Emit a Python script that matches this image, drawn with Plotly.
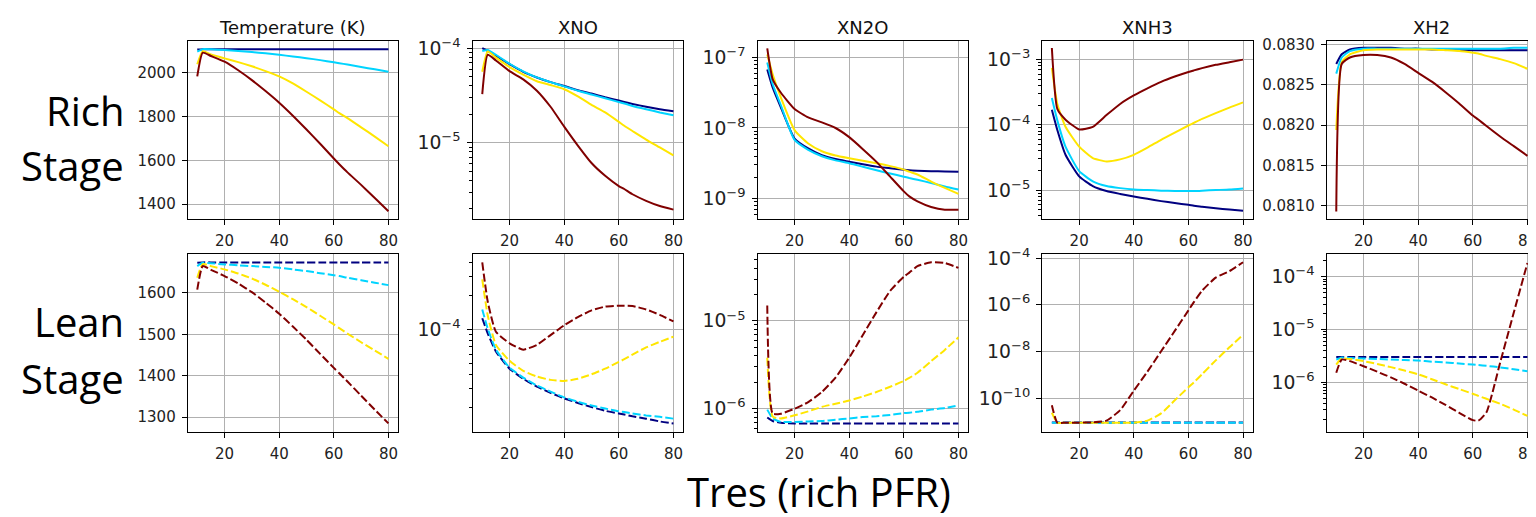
import plotly.graph_objects as go

# ---------------- data ----------------
X = [10, 12, 15, 20, 25, 30, 35, 40, 45, 50, 55, 60, 62, 65, 70, 75, 80]
X_TICKS = [20, 40, 60, 80]

COLORS = ['#000080', '#00d4ff', '#ffe600', '#800000']
TITLES = ['Temperature (K)', 'XNO', 'XN2O', 'XNH3', 'XH2']
ROW_LABELS = [['Rich', 'Stage'], ['Lean', 'Stage']]
X_TITLE = 'Tres (rich PFR)'

# ---- Rich stage (solid lines) ----
rich_temp = [
    [2104, 2106, 2106, 2106, 2106, 2106, 2106, 2106, 2106, 2106, 2106, 2106, 2106, 2106, 2106, 2106, 2106],
    [2095, 2106, 2105, 2102, 2098, 2093, 2087, 2080, 2073, 2065, 2056, 2046, 2042, 2036, 2025, 2014, 2003],
    [2037, 2097, 2082, 2064, 2047, 2028, 2006, 1982, 1950, 1912, 1873, 1832, 1815, 1792, 1750, 1708, 1664],
    [1982, 2090, 2075, 2049, 2010, 1965, 1915, 1862, 1803, 1740, 1675, 1608, 1582, 1545, 1488, 1428, 1368],
]
rich_xno = [
    [1.0e-4, 9.33e-5, 8.32e-5, 6.76e-5, 5.62e-5, 4.90e-5, 4.37e-5, 3.98e-5, 3.59e-5, 3.31e-5, 3.02e-5, 2.79e-5, 2.69e-5, 2.57e-5, 2.40e-5, 2.26e-5, 2.15e-5],
    [9.33e-5, 9.55e-5, 8.51e-5, 6.84e-5, 5.69e-5, 4.90e-5, 4.37e-5, 3.94e-5, 3.55e-5, 3.24e-5, 2.95e-5, 2.69e-5, 2.60e-5, 2.45e-5, 2.26e-5, 2.09e-5, 1.95e-5],
    [5.62e-5, 9.23e-5, 7.94e-5, 6.31e-5, 5.25e-5, 4.47e-5, 4.07e-5, 3.68e-5, 3.09e-5, 2.51e-5, 2.09e-5, 1.66e-5, 1.51e-5, 1.33e-5, 1.08e-5, 8.91e-6, 7.33e-6],
    [3.27e-5, 8.51e-5, 7.41e-5, 5.71e-5, 4.68e-5, 3.55e-5, 2.40e-5, 1.48e-5, 9.33e-6, 6.10e-6, 4.47e-6, 3.48e-6, 3.24e-6, 2.85e-6, 2.43e-6, 2.14e-6, 1.96e-6],
]
rich_xn2o = [
    [6.76e-8, 3.72e-8, 1.95e-8, 7.08e-9, 5.13e-9, 4.12e-9, 3.63e-9, 3.33e-9, 3.05e-9, 2.83e-9, 2.69e-9, 2.55e-9, 2.51e-9, 2.48e-9, 2.44e-9, 2.41e-9, 2.39e-9],
    [8.51e-8, 4.17e-8, 2.09e-8, 6.76e-9, 4.90e-9, 3.98e-9, 3.47e-9, 3.16e-9, 2.82e-9, 2.51e-9, 2.26e-9, 2.04e-9, 1.95e-9, 1.84e-9, 1.66e-9, 1.48e-9, 1.34e-9],
    [1.10e-7, 5.75e-8, 2.69e-8, 9.33e-9, 6.03e-9, 4.68e-9, 4.07e-9, 3.72e-9, 3.43e-9, 3.16e-9, 2.88e-9, 2.57e-9, 2.40e-9, 2.19e-9, 1.74e-9, 1.41e-9, 1.16e-9],
    [1.35e-7, 4.90e-8, 3.16e-8, 1.86e-8, 1.41e-8, 1.20e-8, 1.0e-8, 7.41e-9, 5.01e-9, 3.31e-9, 2.04e-9, 1.26e-9, 1.07e-9, 9.12e-10, 7.59e-10, 6.92e-10, 6.92e-10],
]
rich_xnh3 = [
    [1.70e-4, 8.32e-5, 3.47e-5, 1.62e-5, 1.15e-5, 9.66e-6, 8.71e-6, 7.94e-6, 7.33e-6, 6.76e-6, 6.31e-6, 5.93e-6, 5.75e-6, 5.56e-6, 5.25e-6, 5.01e-6, 4.82e-6],
    [2.57e-4, 1.17e-4, 4.62e-5, 1.95e-5, 1.36e-5, 1.15e-5, 1.07e-5, 1.02e-5, 1.0e-5, 9.77e-6, 9.66e-6, 9.66e-6, 9.66e-6, 9.77e-6, 1.0e-5, 1.02e-5, 1.06e-5],
    [7.48e-4, 2.09e-4, 9.33e-5, 4.62e-5, 3.09e-5, 2.75e-5, 2.95e-5, 3.47e-5, 4.47e-5, 5.89e-5, 7.59e-5, 9.77e-5, 1.07e-4, 1.23e-4, 1.51e-4, 1.84e-4, 2.21e-4],
    [1.51e-3, 1.75e-4, 1.20e-4, 8.51e-5, 9.33e-5, 1.41e-4, 2.09e-4, 2.82e-4, 3.63e-4, 4.57e-4, 5.50e-4, 6.46e-4, 6.84e-4, 7.41e-4, 8.32e-4, 9.12e-4, 1.0e-3],
]
rich_xh2 = [
    [0.08276, 0.08288, 0.08294, 0.08296, 0.08296, 0.08296, 0.08295, 0.08295, 0.08294, 0.08294, 0.08293, 0.08293, 0.08293, 0.08293, 0.08293, 0.08293, 0.08293],
    [0.08264, 0.08284, 0.08292, 0.08295, 0.08295, 0.08295, 0.08295, 0.08295, 0.08295, 0.08295, 0.08295, 0.08295, 0.08295, 0.08295, 0.08295, 0.08296, 0.08296],
    [0.08194, 0.08278, 0.08288, 0.08293, 0.08294, 0.08294, 0.08294, 0.08294, 0.08294, 0.08293, 0.08292, 0.08290, 0.08289, 0.08286, 0.08282, 0.08277, 0.08270],
    [0.08093, 0.08276, 0.08284, 0.08287, 0.08287, 0.08284, 0.08276, 0.08265, 0.08254, 0.08241, 0.08227, 0.08212, 0.08207, 0.08199, 0.08186, 0.08174, 0.08162],
]

# ---- Lean stage (dashed lines) ----
lean_temp = [
    [1673, 1674, 1674, 1674, 1674, 1674, 1674, 1674, 1674, 1674, 1674, 1674, 1674, 1674, 1674, 1674, 1674],
    [1665, 1673, 1672, 1669, 1667, 1665, 1663, 1661, 1657, 1653, 1648, 1643, 1641, 1637, 1631, 1625, 1619],
    [1637, 1670, 1665, 1657, 1647, 1635, 1620, 1603, 1585, 1566, 1545, 1524, 1515, 1502, 1481, 1461, 1441],
    [1608, 1665, 1656, 1641, 1623, 1602, 1577, 1550, 1519, 1487, 1453, 1419, 1406, 1386, 1352, 1318, 1285],
]
lean_xno = [
    [1.26e-4, 9.23e-5, 6.37e-5, 4.47e-5, 3.63e-5, 3.09e-5, 2.72e-5, 2.43e-5, 2.21e-5, 2.03e-5, 1.88e-5, 1.78e-5, 1.74e-5, 1.68e-5, 1.60e-5, 1.51e-5, 1.45e-5],
    [1.51e-4, 1.02e-4, 6.61e-5, 4.57e-5, 3.72e-5, 3.16e-5, 2.79e-5, 2.48e-5, 2.26e-5, 2.10e-5, 1.97e-5, 1.86e-5, 1.83e-5, 1.78e-5, 1.71e-5, 1.66e-5, 1.60e-5],
    [2.80e-4, 1.34e-4, 7.29e-5, 5.25e-5, 4.27e-5, 3.80e-5, 3.55e-5, 3.47e-5, 3.63e-5, 3.98e-5, 4.47e-5, 5.13e-5, 5.43e-5, 5.96e-5, 6.92e-5, 7.76e-5, 8.63e-5],
    [3.98e-4, 1.78e-4, 9.55e-5, 7.53e-5, 6.61e-5, 7.29e-5, 8.91e-5, 1.09e-4, 1.29e-4, 1.48e-4, 1.60e-4, 1.63e-4, 1.63e-4, 1.62e-4, 1.51e-4, 1.35e-4, 1.18e-4],
]
lean_xn2o = [
    [7.94e-7, 7.24e-7, 6.92e-7, 6.79e-7, 6.79e-7, 6.79e-7, 6.79e-7, 6.79e-7, 6.79e-7, 6.79e-7, 6.79e-7, 6.79e-7, 6.79e-7, 6.79e-7, 6.79e-7, 6.79e-7, 6.79e-7],
    [9.77e-7, 7.76e-7, 7.08e-7, 7.08e-7, 7.16e-7, 7.24e-7, 7.50e-7, 7.76e-7, 8.04e-7, 8.22e-7, 8.51e-7, 8.91e-7, 9.02e-7, 9.23e-7, 9.77e-7, 1.02e-6, 1.09e-6],
    [3.80e-6, 8.13e-7, 7.76e-7, 8.41e-7, 9.33e-7, 1.05e-6, 1.14e-6, 1.24e-6, 1.38e-6, 1.55e-6, 1.78e-6, 2.07e-6, 2.24e-6, 2.57e-6, 3.48e-6, 4.68e-6, 6.50e-6],
    [1.50e-5, 8.79e-7, 8.79e-7, 1.0e-6, 1.19e-6, 1.55e-6, 2.26e-6, 3.80e-6, 6.92e-6, 1.26e-5, 2.20e-5, 3.19e-5, 3.55e-5, 4.20e-5, 4.66e-5, 4.57e-5, 4.02e-5],
]
lean_xnh3 = [
    [9.2e-12, 9.2e-12, 9.2e-12, 9.2e-12, 9.2e-12, 9.2e-12, 9.2e-12, 9.2e-12, 9.2e-12, 9.2e-12, 9.2e-12, 9.2e-12, 9.2e-12, 9.2e-12, 9.2e-12, 9.2e-12, 9.2e-12],
    [9.0e-12, 9.0e-12, 9.0e-12, 9.0e-12, 9.0e-12, 9.0e-12, 9.0e-12, 9.0e-12, 9.0e-12, 9.0e-12, 9.0e-12, 9.0e-12, 9.0e-12, 9.0e-12, 9.0e-12, 9.0e-12, 9.0e-12],
    [2.40e-11, 9.02e-12, 9.02e-12, 9.02e-12, 9.02e-12, 9.02e-12, 9.02e-12, 9.02e-12, 1.10e-11, 2.24e-11, 8.13e-11, 2.95e-10, 4.79e-10, 1.07e-9, 4.17e-9, 1.51e-8, 5.13e-8],
    [5.01e-11, 9.02e-12, 9.02e-12, 9.02e-12, 9.33e-12, 1.10e-11, 3.09e-11, 2.09e-10, 1.38e-9, 1.02e-8, 7.59e-8, 5.75e-7, 1.29e-6, 3.98e-6, 1.45e-5, 2.75e-5, 6.61e-5],
]
lean_xh2 = [
    [3.02e-6, 3.02e-6, 3.02e-6, 3.02e-6, 3.02e-6, 3.02e-6, 3.02e-6, 3.02e-6, 3.02e-6, 3.02e-6, 3.02e-6, 3.02e-6, 3.02e-6, 3.02e-6, 3.02e-6, 3.02e-6, 3.02e-6],
    [2.69e-6, 2.95e-6, 2.88e-6, 2.82e-6, 2.75e-6, 2.69e-6, 2.63e-6, 2.57e-6, 2.45e-6, 2.37e-6, 2.26e-6, 2.16e-6, 2.11e-6, 2.04e-6, 1.91e-6, 1.76e-6, 1.62e-6],
    [2.16e-6, 2.82e-6, 2.75e-6, 2.51e-6, 2.21e-6, 1.93e-6, 1.66e-6, 1.41e-6, 1.14e-6, 9.12e-7, 7.41e-7, 6.03e-7, 5.50e-7, 4.84e-7, 3.89e-7, 3.02e-7, 2.29e-7],
    [1.51e-6, 2.69e-6, 2.51e-6, 2.01e-6, 1.58e-6, 1.23e-6, 9.33e-7, 6.92e-7, 5.13e-7, 3.72e-7, 2.63e-7, 1.91e-7, 1.86e-7, 2.69e-7, 2.34e-6, 2.09e-5, 1.82e-4],
]

PANELS = [rich_temp, rich_xno, rich_xn2o, rich_xnh3, rich_xh2,
          lean_temp, lean_xno, lean_xn2o, lean_xnh3, lean_xh2]

# ---------------- layout / styling ----------------
W, H = 1536, 517
OFF = 8          # the page body margin shifts the figure by this many px
COL_LEFT = [187.7, 472.7, 757.7, 1042.3, 1326.7]
COL_W = 210.3
ROW_TOP = [32.0, 249.3]
ROW_BOT = [213.5, 430.0]


def px(v):
    return (v - OFF) / W


def py(v):
    return 1 - (v - OFF) / H


TICK_FONT = dict(family='DejaVu Sans', size=15, color='#222222')
GRID = '#b0b0b0'

Y_CFG = [
    dict(type='linear', range=[1333, 2145], tickvals=[1400, 1600, 1800, 2000]),
    dict(type='log', range=[-5.806, -3.92], dtick=1, minor=True),
    dict(type='log', range=[-9.29, -6.76], dtick=1, minor=True),
    dict(type='log', range=[-5.443, -2.708], dtick=1, minor=True),
    dict(type='linear', range=[0.080837, 0.08305],
         tickvals=[0.081, 0.0815, 0.082, 0.0825, 0.083], tickformat='.4f'),
    dict(type='linear', range=[1265, 1694], tickvals=[1300, 1400, 1500, 1600]),
    dict(type='log', range=[-4.912, -3.327], dtick=1, minor=True),
    dict(type='log', range=[-6.261, -4.239], dtick=1, minor=True),
    dict(type='log', range=[-11.43, -3.832], dtick=2, minor=False),
    dict(type='log', range=[-6.938, -3.571], dtick=1, minor=True),
]

fig = go.Figure()
layout = {}
annotations = []

for k, series in enumerate(PANELS):
    r, c = divmod(k, 5)
    n = k + 1
    xa = 'x' if n == 1 else f'x{n}'
    ya = 'y' if n == 1 else f'y{n}'
    dash = 'solid' if r == 0 else '8px,3px'
    for s, col in zip(series, COLORS):
        fig.add_trace(go.Scatter(x=X, y=s, mode='lines', xaxis=xa, yaxis=ya,
                                 line=dict(color=col, width=2, dash=dash,
                                           shape='spline', smoothing=0.5),
                                 showlegend=False, hoverinfo='skip'))
    x0 = px(COL_LEFT[c])
    x1 = min(1.0, px(COL_LEFT[c] + COL_W))
    y0 = py(ROW_BOT[r])
    y1 = py(ROW_TOP[r])
    common = dict(showline=True, linecolor='black', linewidth=1, mirror=True,
                  ticks='outside', ticklen=5, tickwidth=1, tickcolor='black',
                  tickfont=TICK_FONT, showgrid=True, gridcolor=GRID, gridwidth=1,
                  zeroline=False, ticklabelstandoff=3)
    layout['xaxis' if n == 1 else f'xaxis{n}'] = dict(
        domain=[x0, x1], anchor=ya, range=[6.5, 83.5], tickvals=X_TICKS, **common)
    cfg = dict(Y_CFG[k])
    yax = dict(domain=[y0, y1], anchor=xa, type=cfg['type'], range=cfg['range'], **common)
    if cfg['type'] == 'log':
        yax.update(dtick=cfg['dtick'], tick0=0, exponentformat='power')
        if cfg['minor']:
            yax['minor'] = dict(ticks='outside', ticklen=3, tickwidth=1,
                                tickcolor='black', dtick='D1', showgrid=False)
    else:
        yax['tickvals'] = cfg['tickvals']
        if 'tickformat' in cfg:
            yax['tickformat'] = cfg['tickformat']
    layout['yaxis' if n == 1 else f'yaxis{n}'] = yax

    if r == 0:
        annotations.append(dict(
            text=TITLES[c], x=px(COL_LEFT[c] + COL_W / 2), y=py(18.5),
            xref='paper', yref='paper', xanchor='center', yanchor='middle',
            showarrow=False, font=dict(family='DejaVu Sans', size=18, color='#111111')))

# row labels
ROW_BASELINES = [[121.7, 178.3], [336.7, 395.0]]
for r in range(2):
    for word, base in zip(ROW_LABELS[r], ROW_BASELINES[r]):
        annotations.append(dict(
            text=word, x=px(126), y=py(base - 19), xref='paper', yref='paper',
            xanchor='right', yanchor='middle', showarrow=False,
            font=dict(family='Open Sans', size=40, color='black')))

annotations.append(dict(
    text=X_TITLE, x=px(819), y=py(491), xref='paper', yref='paper',
    xanchor='center', yanchor='middle', showarrow=False,
    font=dict(family='Open Sans', size=40, color='black')))

fig.update_layout(width=W, height=H, margin=dict(l=0, r=0, t=0, b=0),
                  paper_bgcolor='white', plot_bgcolor='white',
                  annotations=annotations, **layout)

fig.write_html('out.html')
